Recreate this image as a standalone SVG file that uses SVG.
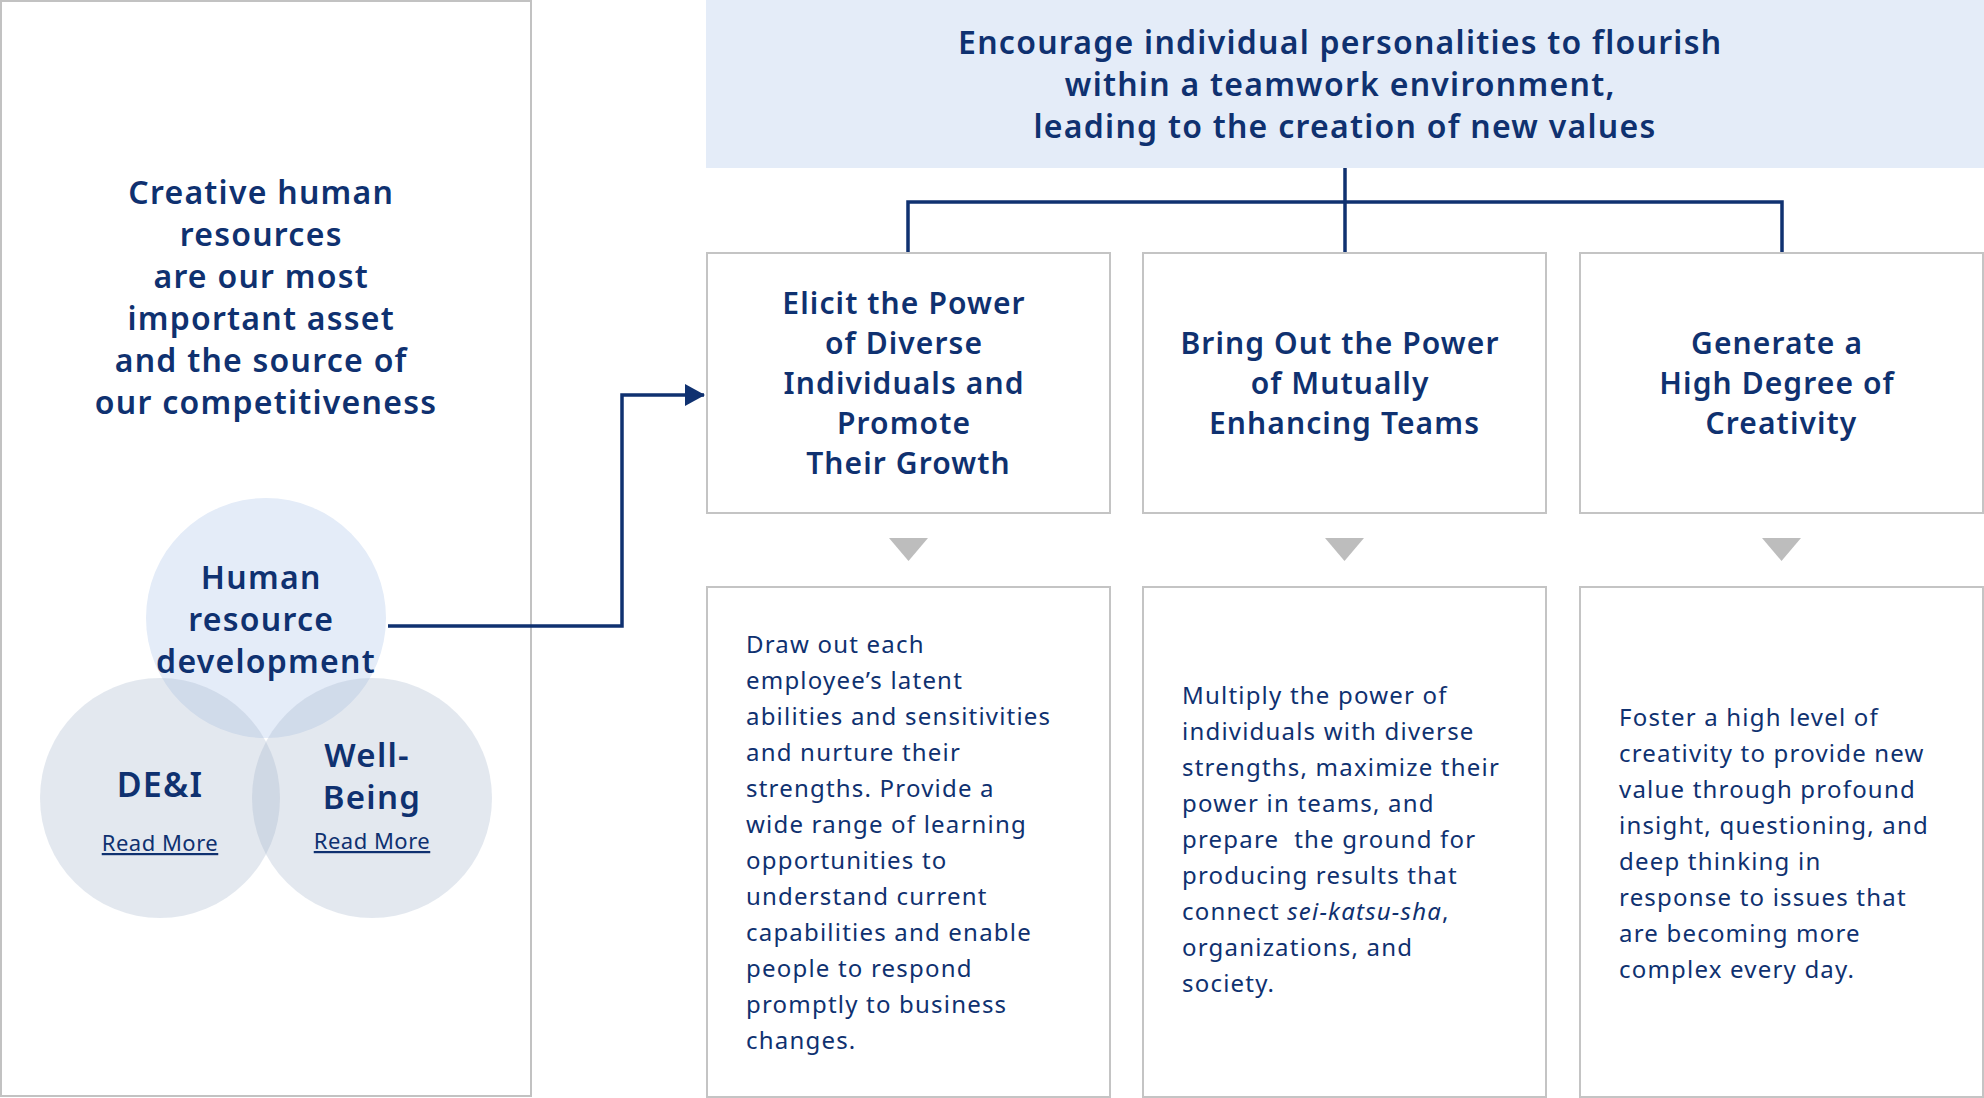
<svg xmlns="http://www.w3.org/2000/svg" width="1984" height="1098" viewBox="0 0 1984 1098">
<defs>
<style>
.panel{fill:#fff;stroke:#c2c2c2;stroke-width:2}
.box{fill:#fff;stroke:#c4c4c4;stroke-width:2}
.title{font-family:"Noto Sans","Liberation Sans",sans-serif;font-weight:600;fill:#0f3170;text-anchor:middle;letter-spacing:1.25px}
.body{font-family:"Noto Sans","Liberation Sans",sans-serif;font-weight:400;fill:#0f3170;font-size:24px;letter-spacing:1.2px}
.link{font-family:"Noto Sans","Liberation Sans",sans-serif;font-weight:400;fill:#0f3170;font-size:22px;text-anchor:middle;text-decoration:underline;letter-spacing:0.5px}
.conn{fill:none;stroke:#0f3170;stroke-width:3.5}
.tri{fill:#bdbdbd}
</style>
<marker id="ah" viewBox="0 0 20 22" refX="19" refY="11" markerWidth="20" markerHeight="22" markerUnits="userSpaceOnUse" orient="auto">
<path d="M0,0 L20,11 L0,22 z" fill="#0f3170"/>
</marker>
</defs>
<rect width="1984" height="1098" fill="#fff"/>

<g id="left-panel">
<rect class="panel" x="1" y="1" width="530" height="1095"/>
<text class="title" font-size="32" x="266">
<tspan x="266" y="204">Creative human</tspan>
<tspan x="266" y="246">resources</tspan>
<tspan x="266" y="288">are our most</tspan>
<tspan x="266" y="330">important asset</tspan>
<tspan x="266" y="372">and the source of</tspan>
<tspan x="266" y="414">our competitiveness</tspan>
</text>
</g>

<g id="circle-hrd">
<circle cx="266" cy="618" r="120" fill="#e4ecf8"/>
</g>
<g id="circle-dei">
<circle cx="160" cy="798" r="120" fill="#a2b2ca" fill-opacity="0.3"/>
<text class="title" font-size="34" x="160" y="797">DE&amp;I</text>
<text class="link" x="160" y="851">Read More</text>
</g>
<g id="circle-wb">
<circle cx="372" cy="798" r="120" fill="#a2b2ca" fill-opacity="0.3"/>
<text class="title" font-size="33" x="372">
<tspan x="372" y="767">Well-</tspan>
<tspan x="372" y="809">Being</tspan>
</text>
<text class="link" x="372" y="849">Read More</text>
</g>
<g id="hrd-label">
<text class="title" font-size="32" x="266">
<tspan x="266" y="589">Human</tspan>
<tspan x="266" y="631">resource</tspan>
<tspan x="266" y="673">development</tspan>
</text>
</g>

<g id="banner">
<rect x="706" y="0" width="1278" height="168" fill="#e4ecf8"/>
<text class="title" font-size="32" x="1345">
<tspan x="1345" y="54">Encourage individual personalities to flourish</tspan>
<tspan x="1345" y="96">within a teamwork environment,</tspan>
<tspan x="1345" y="138">leading to the creation of new values</tspan>
</text>
</g>

<g id="connectors">
<path class="conn" d="M1345,168 V252"/>
<path class="conn" d="M908,252 V202 H1782 V252"/>
<path class="conn" d="M388,626 H622 V395 H704" marker-end="url(#ah)"/>
<polygon class="tri" points="889,538 928,538 908.5,561"/>
<polygon class="tri" points="1325,538 1364,538 1344.5,561"/>
<polygon class="tri" points="1762,538 1801,538 1781.5,561"/>
</g>

<g id="box-elicit">
<rect class="box" x="707" y="253" width="403" height="260"/>
<text class="title" font-size="30" x="908.5" style="letter-spacing:1.1px">
<tspan x="908.5" y="314">Elicit the Power</tspan>
<tspan x="908.5" y="354">of Diverse</tspan>
<tspan x="908.5" y="394">Individuals and</tspan>
<tspan x="908.5" y="434">Promote</tspan>
<tspan x="908.5" y="474">Their Growth</tspan>
</text>
</g>
<g id="box-teams">
<rect class="box" x="1143" y="253" width="403" height="260"/>
<text class="title" font-size="30" x="1344.5" style="letter-spacing:1.1px">
<tspan x="1344.5" y="354">Bring Out the Power</tspan>
<tspan x="1344.5" y="394">of Mutually</tspan>
<tspan x="1344.5" y="434">Enhancing Teams</tspan>
</text>
</g>
<g id="box-creativity">
<rect class="box" x="1580" y="253" width="403" height="260"/>
<text class="title" font-size="30" x="1781.5" style="letter-spacing:1.1px">
<tspan x="1781.5" y="354">Generate a</tspan>
<tspan x="1781.5" y="394">High Degree of</tspan>
<tspan x="1781.5" y="434">Creativity</tspan>
</text>
</g>

<g id="desc-elicit">
<rect class="box" x="707" y="587" width="403" height="510"/>
<text class="body">
<tspan x="746" y="653">Draw out each</tspan>
<tspan x="746" y="689">employee’s latent</tspan>
<tspan x="746" y="725">abilities and sensitivities</tspan>
<tspan x="746" y="761">and nurture their</tspan>
<tspan x="746" y="797">strengths. Provide a</tspan>
<tspan x="746" y="833">wide range of learning</tspan>
<tspan x="746" y="869">opportunities to</tspan>
<tspan x="746" y="905">understand current</tspan>
<tspan x="746" y="941">capabilities and enable</tspan>
<tspan x="746" y="977">people to respond</tspan>
<tspan x="746" y="1013">promptly to business</tspan>
<tspan x="746" y="1049">changes.</tspan>
</text>
</g>
<g id="desc-teams">
<rect class="box" x="1143" y="587" width="403" height="510"/>
<text class="body">
<tspan x="1182" y="704">Multiply the power of</tspan>
<tspan x="1182" y="740">individuals with diverse</tspan>
<tspan x="1182" y="776">strengths, maximize their</tspan>
<tspan x="1182" y="812">power in teams, and</tspan>
<tspan x="1182" y="848">prepare&#160; the ground for</tspan>
<tspan x="1182" y="884">producing results that</tspan>
<tspan x="1182" y="920">connect <tspan font-style="italic">sei-katsu-sha</tspan>,</tspan>
<tspan x="1182" y="956">organizations, and</tspan>
<tspan x="1182" y="992">society.</tspan>
</text>
</g>
<g id="desc-creativity">
<rect class="box" x="1580" y="587" width="403" height="510"/>
<text class="body">
<tspan x="1619" y="726">Foster a high level of</tspan>
<tspan x="1619" y="762">creativity to provide new</tspan>
<tspan x="1619" y="798">value through profound</tspan>
<tspan x="1619" y="834">insight, questioning, and</tspan>
<tspan x="1619" y="870">deep thinking in</tspan>
<tspan x="1619" y="906">response to issues that</tspan>
<tspan x="1619" y="942">are becoming more</tspan>
<tspan x="1619" y="978">complex every day.</tspan>
</text>
</g>
</svg>
